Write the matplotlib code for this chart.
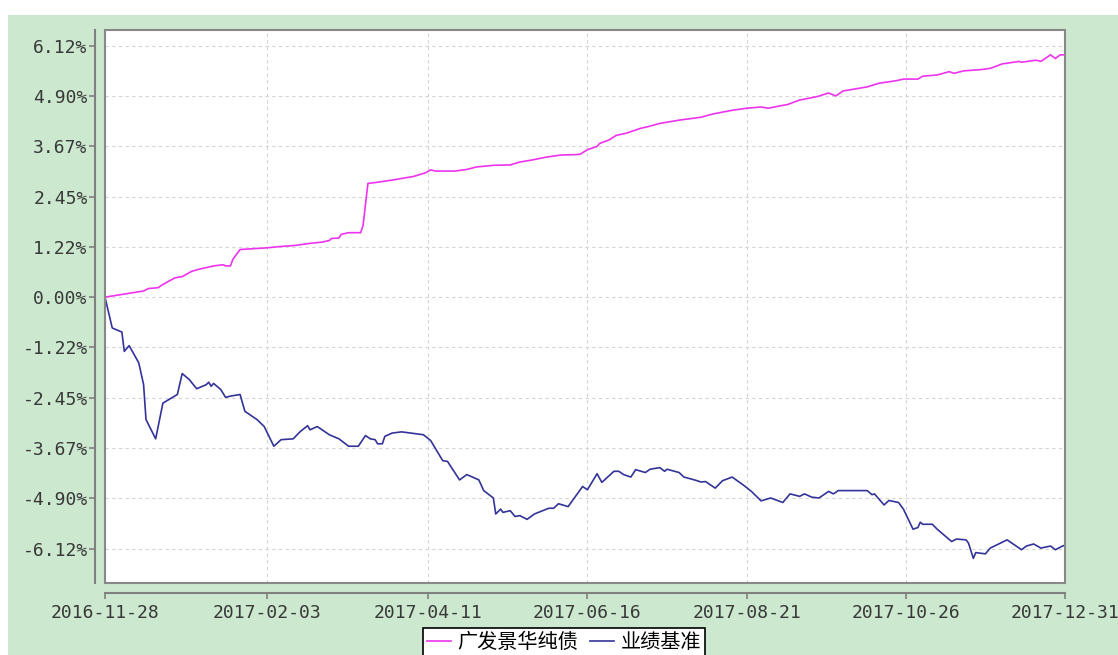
import matplotlib
matplotlib.use('Agg')
import matplotlib.pyplot as plt
import matplotlib.dates as mdates
import pandas as pd
from matplotlib.patches import Rectangle

# 广发景华纯债 cumulative return (%)
fund_dates = ['2016-11-28', '2016-12-14', '2016-12-16', '2016-12-20', '2016-12-22', '2016-12-27',
              '2016-12-30', '2017-01-03', '2017-01-06', '2017-01-12', '2017-01-16', '2017-01-17',
              '2017-01-19', '2017-01-20', '2017-01-23', '2017-02-03', '2017-02-08', '2017-02-15',
              '2017-02-21', '2017-02-26', '2017-03-01', '2017-03-02', '2017-03-05', '2017-03-06',
              '2017-03-09', '2017-03-14', '2017-03-15', '2017-03-17', '2017-03-20', '2017-03-27',
              '2017-04-05', '2017-04-10', '2017-04-12', '2017-04-14', '2017-04-22', '2017-04-27',
              '2017-05-01', '2017-05-08', '2017-05-15', '2017-05-19', '2017-05-24', '2017-05-30',
              '2017-06-05', '2017-06-11', '2017-06-13', '2017-06-16', '2017-06-20', '2017-06-21',
              '2017-06-25', '2017-06-28', '2017-07-02', '2017-07-08', '2017-07-11', '2017-07-16',
              '2017-07-24', '2017-08-02', '2017-08-07', '2017-08-15', '2017-08-21', '2017-08-27',
              '2017-08-30', '2017-09-04', '2017-09-07', '2017-09-12', '2017-09-19', '2017-09-24',
              '2017-09-27', '2017-09-30', '2017-10-10', '2017-10-15', '2017-10-22', '2017-10-25',
              '2017-10-31', '2017-11-02', '2017-11-08', '2017-11-13', '2017-11-15', '2017-11-19',
              '2017-11-26', '2017-11-30', '2017-12-05', '2017-12-12', '2017-12-13', '2017-12-19',
              '2017-12-21', '2017-12-25', '2017-12-27', '2017-12-29', '2017-12-31']
fund_vals = [0.00, 0.15, 0.21, 0.23, 0.31, 0.47,
             0.50, 0.63, 0.68, 0.76, 0.79, 0.76,
             0.76, 0.92, 1.16, 1.20, 1.23, 1.26,
             1.31, 1.34, 1.38, 1.43, 1.44, 1.53,
             1.57, 1.57, 1.75, 2.77, 2.79, 2.85,
             2.94, 3.03, 3.10, 3.07, 3.07, 3.11,
             3.17, 3.21, 3.22, 3.29, 3.34, 3.41,
             3.46, 3.47, 3.48, 3.59, 3.67, 3.74,
             3.83, 3.94, 3.99, 4.11, 4.15, 4.23,
             4.31, 4.38, 4.46, 4.55, 4.60, 4.63,
             4.60, 4.66, 4.69, 4.80, 4.88, 4.97,
             4.90, 5.02, 5.12, 5.21, 5.27, 5.31,
             5.31, 5.38, 5.41, 5.49, 5.45, 5.51,
             5.54, 5.57, 5.68, 5.74, 5.72, 5.77,
             5.74, 5.90, 5.81, 5.90, 5.90]

# 业绩基准 cumulative return (%)
bench_dates = ['2016-11-28', '2016-12-01', '2016-12-05', '2016-12-06', '2016-12-08', '2016-12-12',
               '2016-12-14', '2016-12-15', '2016-12-19', '2016-12-22', '2016-12-28', '2016-12-30',
               '2017-01-02', '2017-01-05', '2017-01-09', '2017-01-10', '2017-01-11', '2017-01-12',
               '2017-01-15', '2017-01-17', '2017-01-19', '2017-01-23', '2017-01-25', '2017-01-30',
               '2017-02-02', '2017-02-06', '2017-02-09', '2017-02-14', '2017-02-17', '2017-02-20',
               '2017-02-21', '2017-02-24', '2017-03-01', '2017-03-05', '2017-03-09', '2017-03-13',
               '2017-03-16', '2017-03-18', '2017-03-20', '2017-03-21', '2017-03-23', '2017-03-24',
               '2017-03-27', '2017-03-31', '2017-04-05', '2017-04-09', '2017-04-12', '2017-04-17',
               '2017-04-19', '2017-04-24', '2017-04-27', '2017-05-02', '2017-05-04', '2017-05-08',
               '2017-05-09', '2017-05-11', '2017-05-12', '2017-05-15', '2017-05-17', '2017-05-19',
               '2017-05-22', '2017-05-25', '2017-05-31', '2017-06-02', '2017-06-04', '2017-06-08',
               '2017-06-14', '2017-06-16', '2017-06-20', '2017-06-22', '2017-06-27', '2017-06-29',
               '2017-07-01', '2017-07-04', '2017-07-06', '2017-07-10', '2017-07-12', '2017-07-16',
               '2017-07-18', '2017-07-19', '2017-07-24', '2017-07-26', '2017-07-31', '2017-08-02',
               '2017-08-04', '2017-08-08', '2017-08-11', '2017-08-15', '2017-08-20', '2017-08-23',
               '2017-08-27', '2017-08-31', '2017-09-05', '2017-09-08', '2017-09-12', '2017-09-14',
               '2017-09-17', '2017-09-20', '2017-09-24', '2017-09-26', '2017-09-28', '2017-10-10',
               '2017-10-12', '2017-10-13', '2017-10-17', '2017-10-19', '2017-10-23', '2017-10-25',
               '2017-10-29', '2017-10-31', '2017-11-01', '2017-11-02', '2017-11-06', '2017-11-08',
               '2017-11-14', '2017-11-16', '2017-11-20', '2017-11-21', '2017-11-23', '2017-11-24',
               '2017-11-28', '2017-11-30', '2017-12-07', '2017-12-13', '2017-12-15', '2017-12-18',
               '2017-12-21', '2017-12-25', '2017-12-27', '2017-12-30', '2017-12-31']
bench_vals = [0.00, -0.75, -0.85, -1.32, -1.18, -1.60,
              -2.13, -2.98, -3.45, -2.58, -2.37, -1.86,
              -2.01, -2.23, -2.13, -2.07, -2.17, -2.10,
              -2.25, -2.44, -2.41, -2.37, -2.78, -2.98,
              -3.15, -3.63, -3.47, -3.45, -3.27, -3.13,
              -3.23, -3.15, -3.35, -3.45, -3.63, -3.63,
              -3.37, -3.45, -3.47, -3.57, -3.57, -3.39,
              -3.31, -3.28, -3.32, -3.35, -3.49, -3.98,
              -4.00, -4.45, -4.32, -4.45, -4.71, -4.89,
              -5.28, -5.16, -5.24, -5.20, -5.34, -5.32,
              -5.41, -5.28, -5.14, -5.14, -5.03, -5.10,
              -4.61, -4.69, -4.30, -4.51, -4.24, -4.24,
              -4.32, -4.38, -4.20, -4.27, -4.19, -4.15,
              -4.24, -4.19, -4.27, -4.38, -4.46, -4.50,
              -4.49, -4.65, -4.47, -4.38, -4.59, -4.73,
              -4.96, -4.89, -5.00, -4.79, -4.85, -4.79,
              -4.87, -4.89, -4.73, -4.79, -4.71, -4.71,
              -4.81, -4.79, -5.06, -4.95, -5.00, -5.16,
              -5.65, -5.61, -5.48, -5.53, -5.53, -5.65,
              -5.95, -5.89, -5.91, -5.99, -6.36, -6.22,
              -6.25, -6.11, -5.91, -6.15, -6.06, -6.01,
              -6.11, -6.06, -6.15, -6.06, -6.04]

tick_dates = ['2016-11-28', '2017-02-03', '2017-04-11', '2017-06-16', '2017-08-21', '2017-10-26', '2017-12-31']
ytick_vals = [-6.1225, -4.898, -3.6735, -2.449, -1.2245, 0.0, 1.2245, 2.449, 3.6735, 4.898, 6.1225]
ytick_labels = ['-6.12%', '-4.90%', '-3.67%', '-2.45%', '-1.22%', '0.00%', '1.22%', '2.45%', '3.67%', '4.90%', '6.12%']

W, H = 1118, 655
fig = plt.figure(figsize=(W / 100, H / 100), dpi=100)
fig.patch.set_facecolor('white')
fig.patches.append(Rectangle((8 / W, 0), 1, 1 - 15 / H, transform=fig.transFigure,
                             facecolor='#cce8cf', edgecolor='none', zorder=-10))

ax = fig.add_axes([105 / W, 1 - 583 / H, (1065 - 105) / W, (583 - 30) / H])
ax.set_facecolor('white')

fd = pd.to_datetime(fund_dates)
bd = pd.to_datetime(bench_dates)
ax.plot(fd, fund_vals, color='#ee33ee', lw=1.2, label='广发景华纯债', zorder=3)
ax.plot(bd, bench_vals, color='#333399', lw=1.2, label='业绩基准', zorder=3)

ax.set_xlim(pd.Timestamp('2016-11-28'), pd.Timestamp('2017-12-31'))
ax.set_ylim(-6.96, 6.505)
ax.set_yticks(ytick_vals)
ax.set_yticklabels(ytick_labels)
ax.set_xticks(pd.to_datetime(tick_dates))
ax.xaxis.set_major_formatter(mdates.DateFormatter('%Y-%m-%d'))

ax.grid(True, color='#d4d4d4', linestyle=(0, (3, 3)), lw=0.8)

for s in ['left', 'bottom']:
    ax.spines[s].set_position(('outward', 7))
    ax.spines[s].set_color('#808080')
    ax.spines[s].set_linewidth(1.5)
for s in ['top', 'right']:
    ax.spines[s].set_visible(False)
ax.add_patch(Rectangle((0, 0), 1, 1, transform=ax.transAxes, fill=False,
                       edgecolor='#888888', lw=1.5, clip_on=False, zorder=4))

ax.tick_params(axis='both', colors='#808080', length=4, width=1.2, labelcolor='#383838',
               labelsize=13)
ax.tick_params(axis='y', pad=1.5)
ax.tick_params(axis='x', pad=4)
for lab in ax.get_xticklabels() + ax.get_yticklabels():
    lab.set_family('DejaVu Sans Mono')

leg = fig.legend(loc='upper center', bbox_to_anchor=(564 / W, 1 - 628 / H), ncol=2,
                 prop={'family': ['Noto Sans CJK SC', 'DejaVu Sans'], 'size': 14.5},
                 frameon=True, fancybox=False, handlelength=1.2, handletextpad=0.3,
                 columnspacing=0.6, borderpad=0.2, borderaxespad=0)
leg.get_frame().set_edgecolor('black')
leg.get_frame().set_linewidth(1.2)
leg.get_frame().set_facecolor('white')
leg.get_frame().set_alpha(1)

fig.savefig('out.png', dpi=100)
